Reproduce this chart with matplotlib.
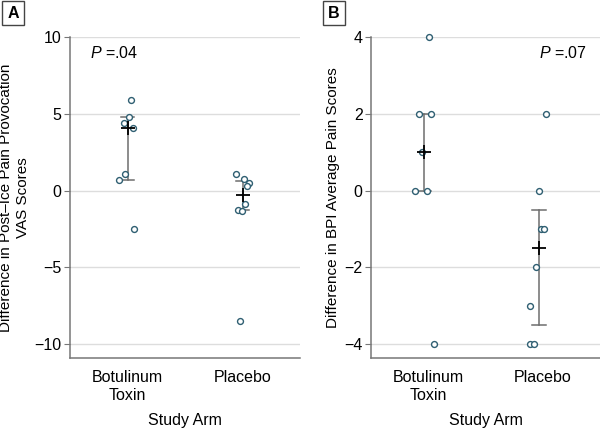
import matplotlib
matplotlib.use("Agg")
import matplotlib.pyplot as plt

plt.rcParams['font.family'] = ['Liberation Sans', 'DejaVu Sans']
plt.rcParams['mathtext.fontset'] = 'custom'
plt.rcParams['mathtext.rm'] = 'Liberation Sans'
plt.rcParams['mathtext.it'] = 'Liberation Sans:italic'

categories = ["Botulinum\nToxin", "Placebo"]

# panel A: post-ice pain provocation VAS
a_bot = [5.9, 4.8, 4.4, 4.1, 1.1, 0.7, -2.5]
a_bot_jit = [0.029, 0.011, -0.032, 0.046, -0.02, -0.073, 0.059]
a_pla = [1.1, 0.76, 0.52, 0.33, -0.87, -1.26, -1.3, -8.5]
a_pla_jit = [-0.059, 0.011, 0.053, 0.041, 0.026, -0.041, -0.006, -0.026]
a_median = [4.1, -0.27]
a_low = [0.7, -1.28]
a_high = [4.8, 0.65]

# panel B: BPI average pain
b_bot = [4, 2, 2, 1, 0, 0, -4]
b_bot_jit = [0.04, -0.046, 0.063, -0.023, -0.084, 0.02, 0.084]
b_pla = [2, 0, -1, -1, -2, -3, -4, -4]
b_pla_jit = [0.06, 0.0, 0.02, 0.05, -0.02, -0.08, -0.078, -0.043]
b_median = [1, -1.5]
b_low = [0, -3.5]
b_high = [2, -0.5]

pt_color = "#2f5f72"
bar_color = "#6e6e6e"

fig = plt.figure(figsize=(6, 4.29), dpi=100)


def panel(ax, groups, jits, med, low, high, shift, yticks, ylim, ylabel, ptext, px, ha):
    for i in range(2):
        c = i + 1 + shift
        ax.plot([c, c], [low[i], high[i]], color=bar_color, lw=1.1, zorder=2)
        for yv in (low[i], high[i]):
            ax.plot([c - 0.06, c + 0.06], [yv, yv], color=bar_color, lw=1.1, zorder=2)
        xs = [c + j for j in jits[i]]
        ax.scatter(xs, groups[i], s=18, facecolors="white", edgecolors=pt_color,
                   linewidths=1.0, zorder=3, clip_on=False)
        ax.plot([c], [med[i]], marker="+", color="black", ms=10, mew=1.3, zorder=4)
    ax.set_xlim(0.5, 2.5)
    ax.set_ylim(*ylim)
    ax.set_yticks(yticks)
    ax.set_xticks([1, 2])
    ax.set_xticklabels(categories, fontsize=11.5, linespacing=1.2)
    ax.yaxis.grid(True, color="#dddddd", lw=1)
    ax.set_axisbelow(True)
    for s in ("top", "right"):
        ax.spines[s].set_visible(False)
    for s in ("left", "bottom"):
        ax.spines[s].set_color("#777777")
        ax.spines[s].set_linewidth(1.1)
    ax.tick_params(axis="x", length=0, pad=9)
    ax.tick_params(axis="y", length=4, color="#777777", labelsize=11.5, pad=2)
    ax.set_xlabel("Study Arm", fontsize=11.5, labelpad=7)
    ax.set_ylabel(ylabel, fontsize=11, linespacing=1.3, labelpad=3)
    ax.text(px, 0.95, "$\\it{P}$ =" + ptext, transform=ax.transAxes,
            fontsize=11.5, ha=ha, va="center")


axA = fig.add_axes([70 / 600, 71 / 429, 230 / 600, 321 / 429])
panel(axA, [a_bot, a_pla], [a_bot_jit, a_pla_jit], a_median, a_low, a_high, 0.0,
      [-10, -5, 0, 5, 10], (-10.9, 10),
      "Difference in Post\u2013Ice Pain Provocation\nVAS Scores", ".04", 0.087, "left")

axB = fig.add_axes([371 / 600, 71 / 429, 229 / 600, 321 / 429])
panel(axB, [b_bot, b_pla], [b_bot_jit, b_pla_jit], b_median, b_low, b_high, -0.035,
      [-4, -2, 0, 2, 4], (-4.36, 4),
      "Difference in BPI Average Pain Scores", ".07", 0.945, "right")

for lab, x in (("A", 13 / 600), ("B", 334 / 600)):
    fig.text(x, 1 - 13 / 429, lab, fontsize=11.5, fontweight="bold", ha="center", va="center",
             bbox=dict(boxstyle="square,pad=0.3", fc="white", ec="#444444", lw=1))

fig.savefig("out.png", dpi=100)
